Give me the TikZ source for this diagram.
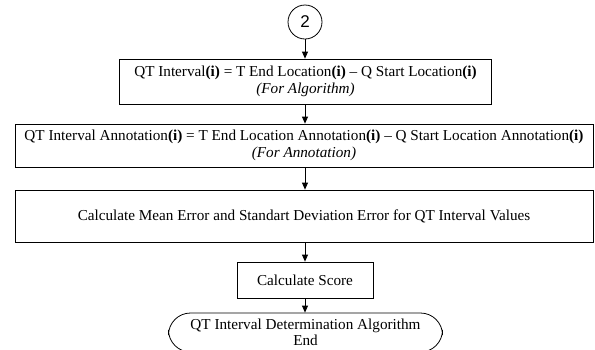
\documentclass[tikz,border=0pt]{standalone}
\usepackage{fontspec}
\setmainfont{Liberation Serif}
\newfontfamily\numfont{Liberation Sans}
\usetikzlibrary{arrows.meta}
\begin{document}
\begin{tikzpicture}[x=1pt,y=-1pt,
  box/.style={draw=black, line width=0.8pt, inner sep=0pt, align=center, font=\fontsize{15.2}{17}\selectfont},
  conn/.style={draw=black, line width=0.8pt, -{Triangle[length=7pt,width=6pt]}},
  termbox/.style={box, rounded corners=22pt, font=\fontsize{15.2}{16}\selectfont}
]
\useasboundingbox (0,0) rectangle (595,349);
\clip (0,0) rectangle (595,349);
\node[draw=black, circle, minimum size=34pt, inner sep=0pt, line width=0.8pt, font=\numfont\fontsize{17}{17}\selectfont] (c2) at (305,22) {2};
\node[box, minimum width=372pt, minimum height=45pt] (b1) at (305.5,81.5)
  {QT Interval\textbf{(i)} = T End Location\textbf{(i)} -- Q Start Location\textbf{(i)}\\\textit{(For Algorithm)}};
\node[box, minimum width=578pt, minimum height=43pt] (b2) at (304,145.5)
  {QT Interval Annotation\textbf{(i)} = T End Location Annotation\textbf{(i)} -- Q Start Location Annotation\textbf{(i)}\\\textit{(For Annotation)}};
\node[box, minimum width=578pt, minimum height=52pt] (b3) at (304,216)
  {Calculate Mean Error and Standart Deviation Error for QT Interval Values};
\node[box, minimum width=136pt, minimum height=36pt] (b4) at (305,280)
  {Calculate Score};
\node[termbox, minimum width=274pt, minimum height=39pt] (t) at (305.5,332.5)
  {QT Interval Determination Algorithm\\End};
\draw[conn] (c2.south) -- (c2.south |- b1.north);
\draw[conn] (c2.south |- b1.south) -- (c2.south |- b2.north);
\draw[conn] (c2.south |- b2.south) -- (c2.south |- b3.north);
\draw[conn] (c2.south |- b3.south) -- (c2.south |- b4.north);
\draw[conn] (c2.south |- b4.south) -- (c2.south |- t.north);
\end{tikzpicture}
\end{document}
